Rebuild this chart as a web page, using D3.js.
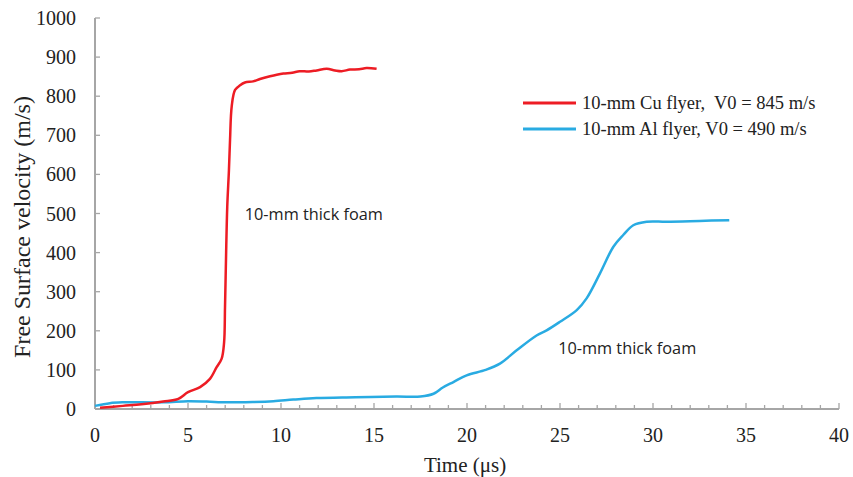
<!DOCTYPE html>
<html>
<head>
<meta charset="utf-8">
<script src="https://cdn.jsdelivr.net/npm/d3@7"></script>
<style>
  body { margin: 0; background: #fff; }
  svg text { font-family: "Liberation Serif", "Times New Roman", serif; fill: #222; }
  .note { font-family: "Open Sans", "Noto Sans", sans-serif; }
</style>
</head>
<body>
<div id="chart"></div>
<script>
// Cu flyer, V0 = 845 m/s
const cuTime = [0.27, 1.5, 2.5, 3.66, 4.48, 5.0, 5.65, 6.18, 6.54, 6.81, 6.94, 6.99, 7.05, 7.11, 7.2, 7.26, 7.35, 7.53, 7.8, 8.06, 8.5, 8.87, 9.41, 9.77, 10.13, 10.6, 11.0, 11.5, 11.92, 12.46, 12.9, 13.26, 13.71, 14.2, 14.6, 15.14];
const cuVel  = [3, 8, 12, 19, 26, 43, 56, 77, 107, 129, 170, 260, 400, 517, 610, 688, 774, 816, 828, 835, 838, 844, 851, 855, 858, 860, 864, 863, 866, 870, 866, 864, 868, 869, 872, 870];

// Al flyer, V0 = 490 m/s
const alTime = [0.0, 0.8, 1.5, 3.67, 5.0, 6.0, 7.08, 8.5, 9.59, 10.66, 11.9, 14.0, 16.2, 17.5, 18.2, 18.7, 19.27, 19.98, 21.0, 21.77, 22.67, 23.74, 24.28, 25.0, 25.9, 26.43, 27.15, 27.87, 28.4, 28.94, 29.66, 30.73, 32.5, 34.1];
const alVel  = [8, 15, 17, 17, 20, 19, 17, 18, 20, 24, 28, 30, 32, 32, 39, 55, 69, 86, 100, 116, 150, 188, 201, 223, 253, 283, 347, 415, 445, 470, 479, 479, 481, 483];

const seriesNames = ["10-mm Cu flyer,  V0 = 845 m/s", "10-mm Al flyer, V0 = 490 m/s"];
const seriesColors = ["#ed1c24", "#29abe2"];
const notes = [
  { label: "10-mm thick foam", t: 8.05, v: 497 },
  { label: "10-mm thick foam", t: 24.9, v: 155 }
];

const xTicks = [0, 5, 10, 15, 20, 25, 30, 35, 40];
const yTicks = [0, 100, 200, 300, 400, 500, 600, 700, 800, 900, 1000];

const width = 853, height = 477;
const margin = { left: 95, right: 14, top: 18, bottom: 68 };

const svg = d3.select("#chart").append("svg")
  .attr("width", width).attr("height", height);

const x = d3.scaleLinear().domain([0, 40]).range([margin.left, width - margin.right]);
const y = d3.scaleLinear().domain([0, 1000]).range([height - margin.bottom, margin.top]);

const axisColor = "#a6a6a6";

// x axis with minor ticks
const xMinor = d3.range(0, 41, 1);
const gx = svg.append("g").attr("transform", `translate(0,${y(0)})`);
gx.append("line").attr("x1", x(0)).attr("x2", x(40)).attr("stroke", axisColor).attr("stroke-width", 2);
gx.selectAll(".minor").data(xMinor).enter().append("line")
  .attr("x1", d => x(d)).attr("x2", d => x(d))
  .attr("y1", 0).attr("y2", d => d % 5 === 0 ? -6 : -4)
  .attr("stroke", axisColor).attr("stroke-width", 1.3);
gx.selectAll("text").data(xTicks).enter().append("text")
  .attr("x", d => x(d)).attr("y", 33)
  .attr("text-anchor", "middle")
  .style("font-size", "20px")
  .text(d => d);

// y axis
const gy = svg.append("g").attr("transform", `translate(${x(0)},0)`);
gy.append("line").attr("y1", y(0)).attr("y2", y(1000)).attr("stroke", axisColor).attr("stroke-width", 2);
gy.selectAll(".tick").data(yTicks).enter().append("line")
  .attr("x1", 0).attr("x2", 5)
  .attr("y1", d => y(d)).attr("y2", d => y(d))
  .attr("stroke", axisColor).attr("stroke-width", 1.3);
gy.selectAll("text").data(yTicks).enter().append("text")
  .attr("x", -19).attr("y", d => y(d))
  .attr("dy", "0.35em")
  .attr("text-anchor", "end")
  .style("font-size", "20px")
  .text(d => d);

// axis titles
svg.append("text")
  .attr("x", 465).attr("y", 472)
  .attr("text-anchor", "middle")
  .style("font-size", "21px")
  .text("Time (μs)");
svg.append("text")
  .attr("transform", "translate(30,227) rotate(-90)")
  .attr("text-anchor", "middle")
  .style("font-size", "24px")
  .text("Free Surface velocity (m/s)");

// lines
const line = d3.line().x(d => x(d[0])).y(d => y(d[1])).curve(d3.curveCatmullRom);
const cuData = cuTime.map((t, i) => [t, cuVel[i]]);
const alData = alTime.map((t, i) => [t, alVel[i]]);

svg.append("path").datum(alData)
  .attr("d", line)
  .attr("fill", "none").attr("stroke", seriesColors[1]).attr("stroke-width", 2.5);
svg.append("path").datum(cuData)
  .attr("d", line)
  .attr("fill", "none").attr("stroke", seriesColors[0]).attr("stroke-width", 2.5);

// legend
const legend = svg.append("g").attr("transform", "translate(523,103)");
seriesNames.forEach((name, i) => {
  const g = legend.append("g").attr("transform", `translate(0,${i * 26})`);
  g.append("line").attr("x1", 0).attr("x2", 53).attr("stroke", seriesColors[i]).attr("stroke-width", 3);
  g.append("text").attr("x", 59).attr("dy", "0.35em")
    .style("font-size", "18.5px").style("white-space", "pre")
    .attr("xml:space", "preserve")
    .text(name);
});

// annotations
svg.selectAll(".note").data(notes).enter().append("text")
  .attr("class", "note")
  .attr("x", d => x(d.t)).attr("y", d => y(d.v))
  .attr("dy", "0.35em")
  .style("font-size", "16.3px")
  .text(d => d.label);
</script>
</body>
</html>
